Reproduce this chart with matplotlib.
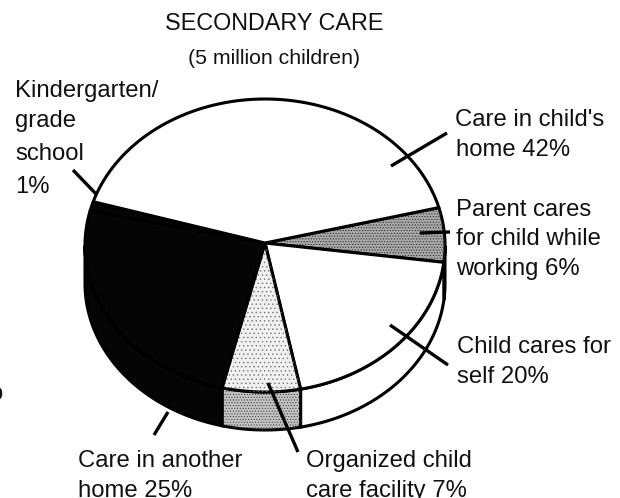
import numpy as np
from matplotlib import pyplot as plt
from matplotlib.patches import Polygon

plt.rcParams["font.family"] = ["Liberation Sans", "DejaVu Sans"]
plt.rcParams["hatch.linewidth"] = 0.5

# clockwise from the right hand edge, percent of children as drawn
# (printed labels add up to 101, the home slice measures about 41 on the page)
slices = ["Parent cares", "Child cares for self", "Organized facility", "Another home", "Kindergarten", "Child's home"]
shares = [6, 20, 7, 25, 1, 41]
start_angle = 15

cx, cy, rx, ry = 265, 245.5, 180, 146.5
depth = 38

top_style = [
    dict(facecolor="#a8a8a8", hatch="......", edgecolor="#333333"),
    dict(facecolor="white"),
    dict(facecolor="#f0f0f0", hatch="....", edgecolor="#777777"),
    dict(facecolor="#050505"),
    dict(facecolor="#050505"),
    dict(facecolor="white"),
]
side_style = [
    dict(facecolor="white"),
    dict(facecolor="white"),
    dict(facecolor="#c4c4c4", hatch="......", edgecolor="#444444"),
    dict(facecolor="#050505"),
    dict(facecolor="#050505"),
    dict(facecolor="white"),
]

labels = [
    (165, 30, "SECONDARY CARE", 16.8),
    (188, 64, "(5 million children)", 15.3),
    (15, 97, "Kindergarten/", 17.2),
    (15, 127, "grade", 17.2),
    (15, 160, "school", 17.2),
    (15, 193, "1%", 17.2),
    (455, 126, "Care in child's", 17.2),
    (456, 156, "home 42%", 17.2),
    (456, 216, "Parent cares", 17.2),
    (456, 245, "for child while", 17.2),
    (456, 275, "working 6%", 17.2),
    (457, 353, "Child cares for", 17.2),
    (457, 383, "self 20%", 17.2),
    (78, 467, "Care in another", 17.2),
    (78, 497, "home 25%", 17.2),
    (306, 467, "Organized child", 17.2),
    (306, 497, "care facility 7%", 17.2),
    (-10, 400, "o", 17.2),
]
leaders = [
    ((391, 166), (447, 133)),
    ((73, 170), (97, 195)),
    ((420, 233), (450, 232)),
    ((390, 325), (448, 365)),
    ((154, 435), (168, 412)),
    ((268, 383), (298, 452)),
]


def arc(a0, a1, shift=0):
    t = np.radians(np.linspace(a0, a1, 80))
    return np.column_stack([cx + rx * np.cos(t), cy - ry * np.sin(t) + shift])


fig = plt.figure(figsize=(6.2, 4.98), dpi=100)
ax = fig.add_axes([0, 0, 1, 1])
ax.set_xlim(0, 620)
ax.set_ylim(498, 0)
ax.axis("off")

sweep = np.array(shares) / sum(shares) * 360
edges = start_angle - np.concatenate([[0], np.cumsum(sweep)])

for i in range(len(shares)):
    a0, a1 = edges[i], edges[i + 1]
    # side wall only shows for the front half of the ellipse
    s0, s1 = min(a0, 0), max(a1, -180)
    if s0 > s1:
        upper = arc(s0, s1)
        lower = arc(s0, s1, depth)[::-1]
        ax.add_patch(Polygon(np.vstack([upper, lower]), facecolor=side_style[i]["facecolor"], edgecolor="black", lw=2.2))
        if "hatch" in side_style[i]:
            ax.add_patch(Polygon(np.vstack([upper, lower]), fill=False, hatch=side_style[i]["hatch"], edgecolor=side_style[i]["edgecolor"], lw=0))

for i in range(len(shares)):
    a0, a1 = edges[i], edges[i + 1]
    pts = np.vstack([[cx, 243], arc(a0, a1)])
    ax.add_patch(Polygon(pts, facecolor=top_style[i]["facecolor"], edgecolor="black", lw=2.2, joinstyle="round"))
    if "hatch" in top_style[i]:
        ax.add_patch(Polygon(pts, fill=False, hatch=top_style[i]["hatch"], edgecolor=top_style[i]["edgecolor"], lw=0))

for p0, p1 in leaders:
    ax.plot([p0[0], p1[0]], [p0[1], p1[1]], color="black", lw=2.4, solid_capstyle="butt")

for x, y, txt, size in labels:
    ax.text(x, y, txt, fontsize=size, ha="left", va="baseline", color="#111111")

fig.savefig("out.png", dpi=100)
